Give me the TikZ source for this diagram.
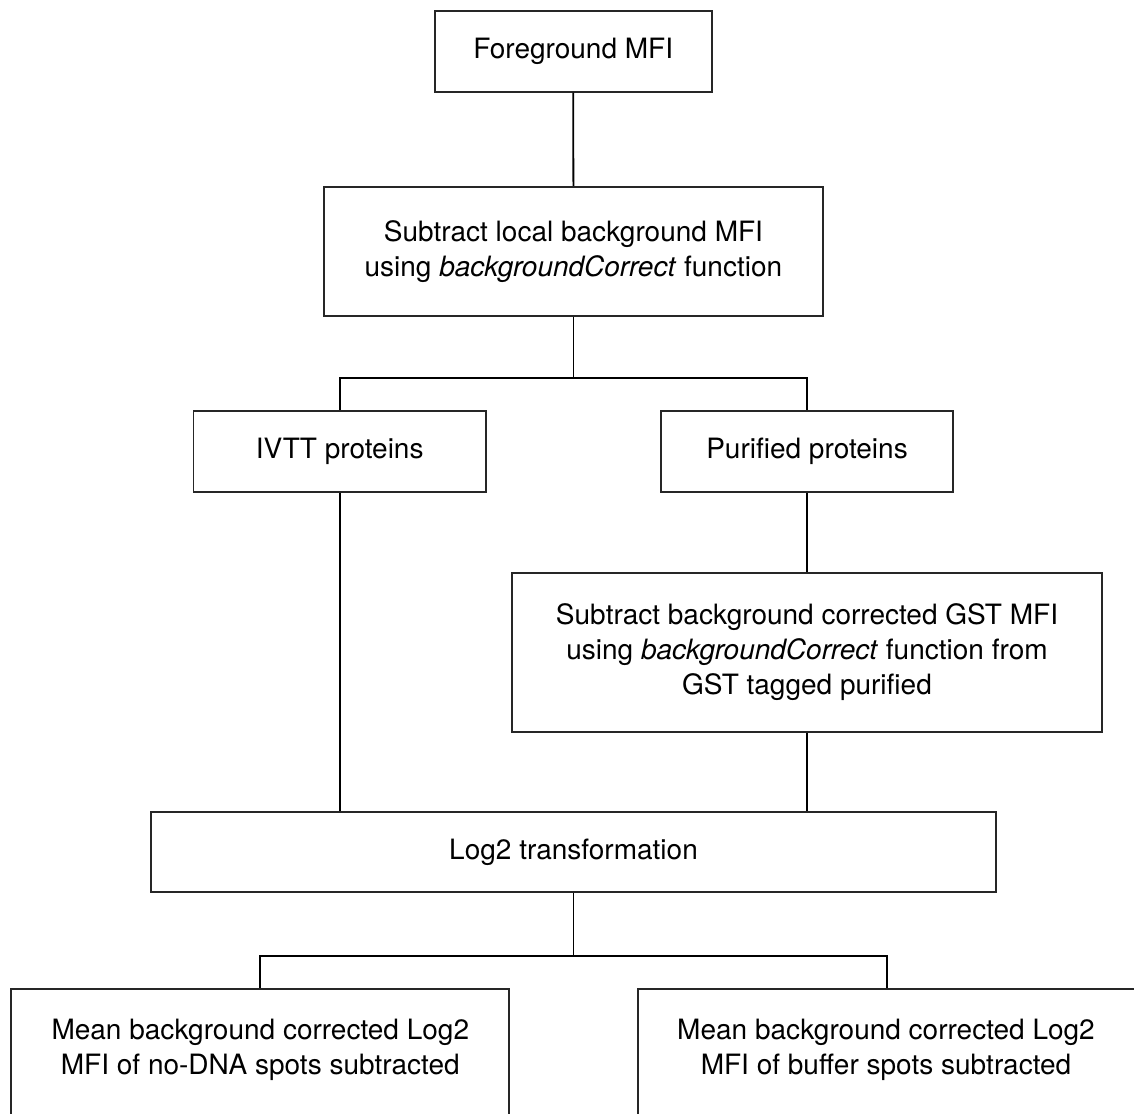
\documentclass[tikz,border=0pt]{standalone}
\usepackage{fontspec}
\setmainfont{TeX Gyre Heros}
\begin{document}
\begin{tikzpicture}[x=1pt,y=-1pt,
  every node/.style={font=\fontsize{28}{35}\selectfont},
  box/.style={draw=black!85, line width=1.8pt, rectangle, inner sep=0pt, align=center},
  conn/.style={draw=black, line width=1.8pt}]
\useasboundingbox (0,0) rectangle (1134,1113);
\clip (0,0) rectangle (1134,1113);
\fill[white] (0,0) rectangle (1134,1113);

\node[box, minimum width=277pt, minimum height=81pt] (b1) at (573.2,51.2) {Foreground MFI};
\node[box, minimum width=499pt, minimum height=129pt] (b2) at (573.4,251.2)
  {Subtract local background MFI\\using \textit{backgroundCorrect} function};
\node[box, minimum width=292.6pt, minimum height=81.3pt] (b3) at (339.7,451.4) {IVTT proteins};
\node[box, minimum width=292.7pt, minimum height=81.3pt] (b4) at (807.0,451.4) {Purified proteins};
\node[box, minimum width=589.5pt, minimum height=159pt] (b5) at (807.0,652.2)
  {Subtract background corrected GST MFI\\using \textit{backgroundCorrect} function from\\GST tagged purified};
\node[box, minimum width=845pt, minimum height=79.4pt] (b6) at (573.5,852.0) {Log2 transformation};
\node[box, minimum width=498pt, minimum height=160pt, anchor=north] (b7) at (260.3,987.7) {};
\node[box, minimum width=498pt, minimum height=160pt, anchor=north] (b8) at (886.7,987.7) {};
\node[align=center, inner sep=0pt] (t7) at (260.3,1050) {Mean background corrected Log2\\MFI of no-DNA spots subtracted};
\node[align=center, inner sep=0pt] (t8) at (886.0,1050) {Mean background corrected Log2\\MFI of buffer spots subtracted};

\coordinate (j1) at (573.4,378.3);
\coordinate (j2) at (573.5,956.0);

\draw[conn] (b1.south) -- (b2.north);
\draw[conn] (b2.south) -- (j1);
\draw[conn] (b3.north) |- (j1) -| (b4.north);
\draw[conn] (b4.south) -- (b5.north);
\draw[conn] (b3.south) -- (b3.south |- b6.north);
\draw[conn] (b5.south) -- (b5.south |- b6.north);
\draw[conn] (b6.south) -- (j2);
\draw[conn] (b7.north) |- (j2) -| (b8.north);
\end{tikzpicture}
\end{document}
